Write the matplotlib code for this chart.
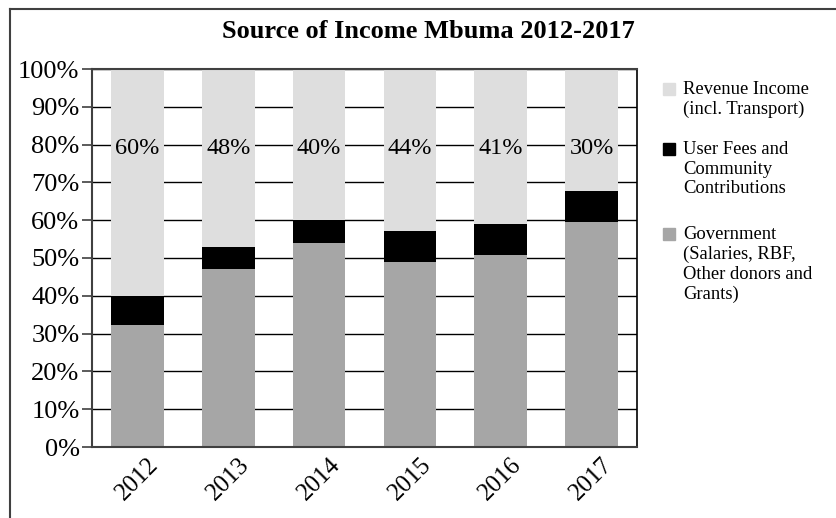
import matplotlib
matplotlib.use("Agg")
import matplotlib.pyplot as plt
import numpy as np
from matplotlib.lines import Line2D
from matplotlib.patches import Rectangle

years = ["2012", "2013", "2014", "2015", "2016", "2017"]
government = [32.2, 47.0, 53.9, 48.9, 50.8, 59.6]
user_fees = [7.7, 5.9, 6.1, 8.2, 8.1, 8.1]
revenue = [60.1, 47.1, 40.0, 42.9, 41.1, 32.3]
revenue_labels = ["60%", "48%", "40%", "44%", "41%", "30%"]

series_names = [
    "Revenue Income\n(incl. Transport)",
    "User Fees and\nCommunity\nContributions",
    "Government\n(Salaries, RBF,\nOther donors and\nGrants)",
]
colors = {"gov": "#a6a6a6", "fees": "#000000", "rev": "#dedede"}

plt.rcParams["font.family"] = ["Liberation Serif", "DejaVu Serif"]

W, H = 836, 518
fig = plt.figure(figsize=(W / 100, H / 100), dpi=100)


def px(x0, y0, x1, y1):
    # pixel box (top-left origin) -> figure fraction rect
    return [x0 / W, 1 - y1 / H, (x1 - x0) / W, (y1 - y0) / H]


ax = fig.add_axes(px(92, 69, 637, 447))
x = np.arange(len(years))
gov = np.array(government)
fees = np.array(user_fees)
rev = np.array(revenue)
width = 0.58
ax.bar(x, gov, width, color=colors["gov"], zorder=2)
ax.bar(x, fees, width, bottom=gov, color=colors["fees"], zorder=2)
ax.bar(x, rev, width, bottom=gov + fees, color=colors["rev"], zorder=2)

for xi, lab in zip(x, revenue_labels):
    ax.text(xi, 79, lab, ha="center", va="center", fontsize=17.5, zorder=3)

ax.set_xlim(-0.5, len(years) - 0.5)
ax.set_ylim(0, 100)
ax.set_yticks(np.arange(0, 101, 10))
ax.set_yticklabels([f"{v}%" for v in range(0, 101, 10)], fontsize=19)
ax.set_xticks(x)
ax.set_xticklabels(years, fontsize=18, rotation=45, ha="center")
ax.tick_params(axis="x", length=0, pad=5)
ax.tick_params(axis="y", length=7, width=1.2, color="#404040", pad=2)
ax.yaxis.grid(True, color="black", linewidth=1.0, zorder=0)
ax.set_axisbelow(True)
for side in ["left", "bottom", "top"]:
    ax.spines[side].set_color("#404040")
    ax.spines[side].set_linewidth(1.5)
ax.spines["right"].set_color("black")
ax.spines["right"].set_linewidth(1.2)

fig.text(428 / W, 1 - 32 / H, "Source of Income Mbuma 2012-2017",
         ha="center", va="center", fontsize=19, fontweight="bold")

# outer frame (only top and left edges visible in the crop)
fig.add_artist(Line2D([10 / W, 10 / W], [0, 1 - 9 / H], color="#404040", lw=1.5))
fig.add_artist(Line2D([10 / W, 1], [1 - 9 / H, 1 - 9 / H], color="#404040", lw=1.5))

# legend, drawn by hand so the markers sit on the first text line
legend_rows = [(series_names[0], colors["rev"], 89),
               (series_names[1], colors["fees"], 149),
               (series_names[2], colors["gov"], 234)]
for label, col, yc in legend_rows:
    fig.add_artist(Rectangle((663 / W, 1 - (yc + 6) / H), 12 / W, 12 / H,
                             transform=fig.transFigure, color=col))
    fig.text(683 / W, 1 - (yc - 8) / H, label, ha="left", va="top",
             fontsize=13.4, linespacing=1.2)

fig.savefig("out.png", dpi=100)
